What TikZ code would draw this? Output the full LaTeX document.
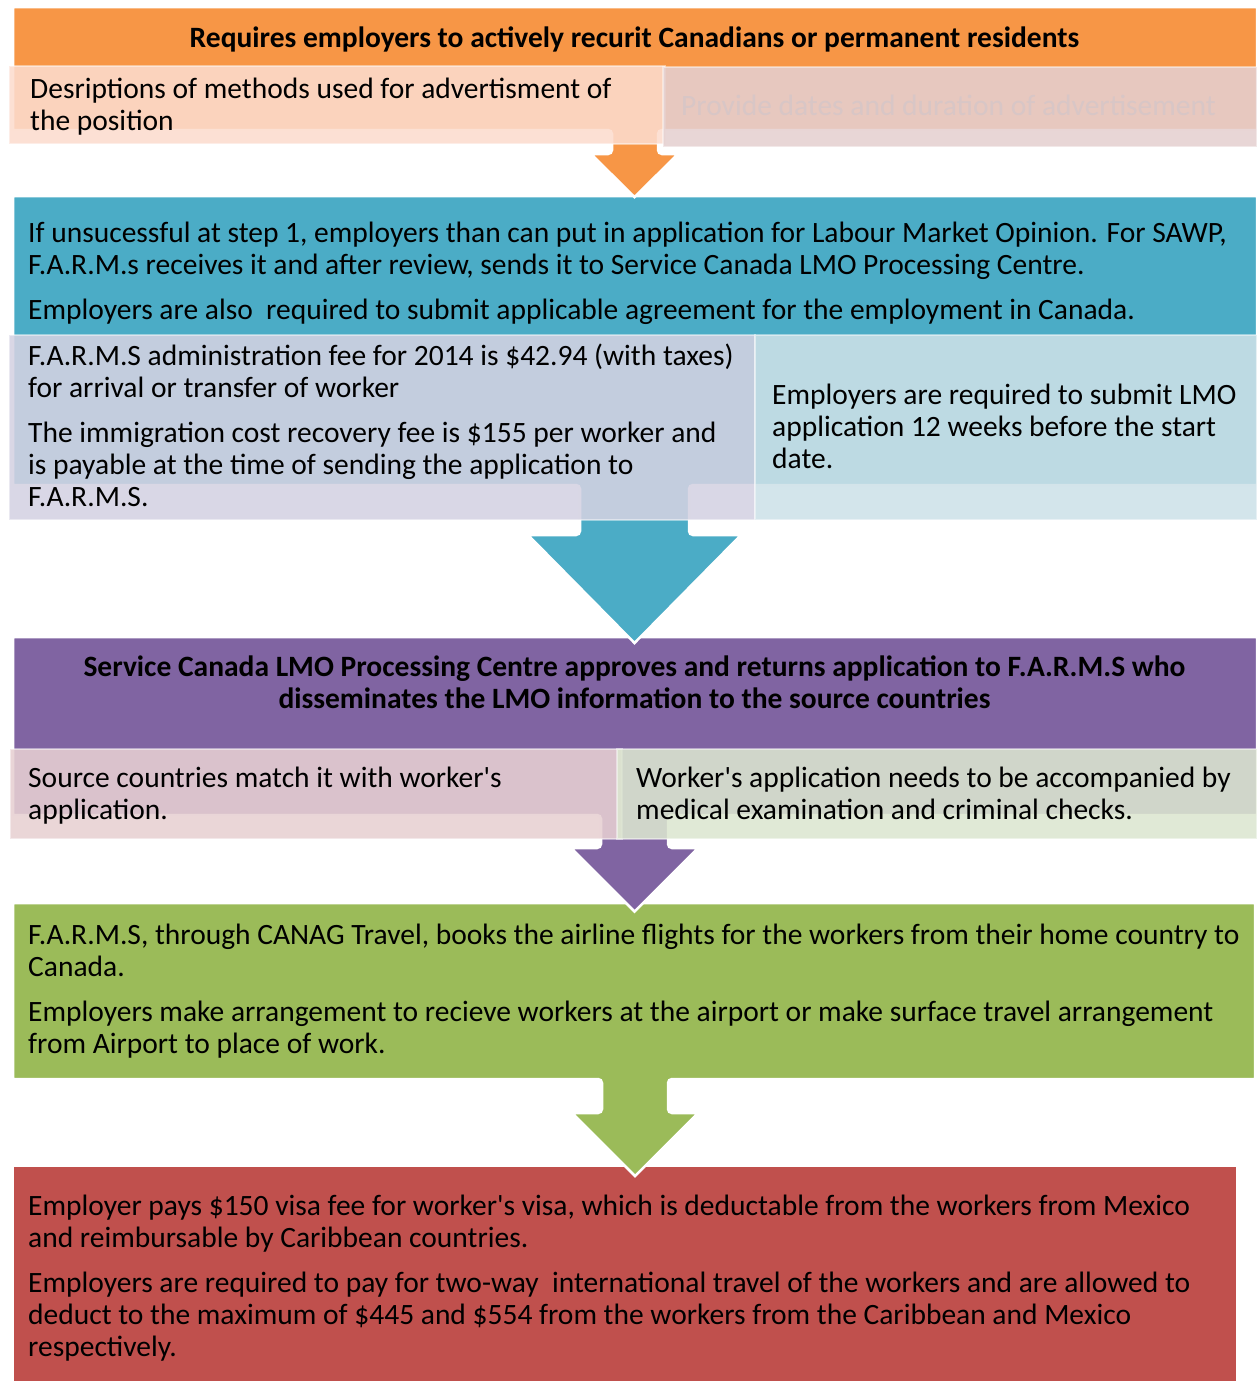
\documentclass[tikz,border=0pt]{standalone}
\usepackage{fontspec}
\setmainfont{Carlito}[Ligatures=TeXOff]
\definecolor{cOrange}{HTML}{F79646}
\definecolor{cTeal}{HTML}{4BACC6}
\definecolor{cPurple}{HTML}{8064A2}
\definecolor{cGreen}{HTML}{9BBB59}
\definecolor{cRed}{HTML}{C0504D}
\definecolor{bPeach}{HTML}{FCDCCE}
\definecolor{bRose}{HTML}{E5D0D0}
\definecolor{bLav}{HTML}{D4D2E2}
\definecolor{bBlue}{HTML}{CDE1E8}
\definecolor{bPink}{HTML}{E7D0D2}
\definecolor{bSage}{HTML}{DCE6D0}
\definecolor{fadeTxt}{HTML}{D8C6C6}
\tikzset{
  stage/.style={draw=white, line width=2.5pt, line join=miter},
  subbox/.style={fill opacity=0.88, draw=white, draw opacity=0.45, line width=1.5pt},
  txt/.style={anchor=base west, inner sep=0pt, align=left, font=\fontsize{29.5}{32}\selectfont},
  ttl/.style={anchor=base, inner sep=0pt, align=center, font=\fontsize{29.5}{32}\selectfont\bfseries},
}
\begin{document}
\begin{tikzpicture}[x=1pt,y=1pt]
\useasboundingbox (0,0) rectangle (1257,-1382);
% ---- stage 5 (red)
\path[stage, fill=cRed] (13,-1166) rectangle (1237,-1382);
% ---- stage 4 (green)
\path[stage, fill=cGreen] (13,-903) -- (1255,-903) -- (1255,-1079)
  [rounded corners=4pt] -- (668,-1079) -- (668,-1113) [sharp corners] -- (698,-1113)
  -- (635,-1176) -- (572,-1113) [rounded corners=4pt] -- (602,-1113) -- (602,-1079)
  [sharp corners] -- (13,-1079) -- cycle;
% ---- stage 3 (purple)
\path[stage, fill=cPurple] (13,-637) -- (1257,-637) -- (1257,-815)
  [rounded corners=4pt] -- (668,-815) -- (668,-848) [sharp corners] -- (698,-848)
  -- (634.5,-911.5) -- (571,-848) [rounded corners=4pt] -- (601,-848) -- (601,-815)
  [sharp corners] -- (13,-815) -- cycle;
\path[subbox, fill=bPink] (10,-749) rectangle (622,-839);
\path[subbox, fill=bSage] (617,-749) rectangle (1257,-839);
% ---- stage 2 (teal)
\path[stage, fill=cTeal] (13,-196) -- (1257,-196) -- (1257,-485)
  [rounded corners=4pt] -- (689,-485) -- (689,-535) [sharp corners] -- (741,-535)
  -- (634.5,-643) -- (528,-535) [rounded corners=4pt] -- (580,-535) -- (580,-485)
  [sharp corners] -- (13,-485) -- cycle;
\path[subbox, fill=bLav] (9,-335) rectangle (755,-520);
\path[subbox, fill=bBlue] (755,-335) rectangle (1257,-520);
% ---- stage 1 (orange)
\path[stage, fill=cOrange] (13,-7) -- (1257,-7) -- (1257,-130)
  [rounded corners=4pt] -- (658,-130) -- (658,-154) [sharp corners] -- (678,-154)
  -- (634.5,-197) -- (591,-154) [rounded corners=4pt] -- (612,-154) -- (612,-130)
  [sharp corners] -- (13,-130) -- cycle;
\path[subbox, fill=bPeach] (9,-66) rectangle (665,-144);
\path[subbox, fill=bRose] (663,-67) rectangle (1257,-147);
% ---- texts (node base = baseline of last line)
\node[ttl] (t1) at (634.5,-47) {Requires employers to actively recurit Canadians or permanent residents};
\node[txt] (t1a) at (30,-130) {Desriptions of methods used for advertisment of\\the position};
\node[txt, text=fadeTxt] (t1b) at (681,-115) {Provide dates and duration of advertisement};
\node[txt] (t2) at (28,-319) {If unsucessful at step 1, employers than can put in application for Labour Market Opinion. For SAWP,\\F.A.R.M.s receives it and after review, sends it to Service Canada LMO Processing Centre.\\[13pt]Employers are also\ \ required to submit applicable agreement for the employment in Canada.};
\node[txt] (t2a) at (28,-506) {F.A.R.M.S administration fee for 2014 is \$42.94 (with taxes)\\for arrival or transfer of worker\\[13pt]The immigration cost recovery fee is \$155 per worker and\\is payable at the time of sending the application to\\F.A.R.M.S.};
\node[txt] (t2b) at (772,-468) {Employers are required to submit LMO\\application 12 weeks before the start\\date.};
\node[ttl] (t3) at (634.5,-708) {Service Canada LMO Processing Centre approves and returns application to F.A.R.M.S who\\disseminates the LMO information to the source countries};
\node[txt] (t3a) at (28,-819) {Source countries match it with worker's\\application.};
\node[txt] (t3b) at (636,-819) {Worker's application needs to be accompanied by\\medical examination and criminal checks.};
\node[txt] (t4) at (28,-1053) {F.A.R.M.S, through CANAG Travel, books the airline flights for the workers from their home country to\\Canada.\\[13pt]Employers make arrangement to recieve workers at the airport or make surface travel arrangement\\from Airport to place of work.};
\node[txt] (t5) at (28,-1356) {Employer pays \$150 visa fee for worker's visa, which is deductable from the workers from Mexico\\and reimbursable by Caribbean countries.\\[13pt]Employers are required to pay for two-way\ \ international travel of the workers and are allowed to\\deduct to the maximum of \$445 and \$554 from the workers from the Caribbean and Mexico\\respectively.};
\end{tikzpicture}
\end{document}
